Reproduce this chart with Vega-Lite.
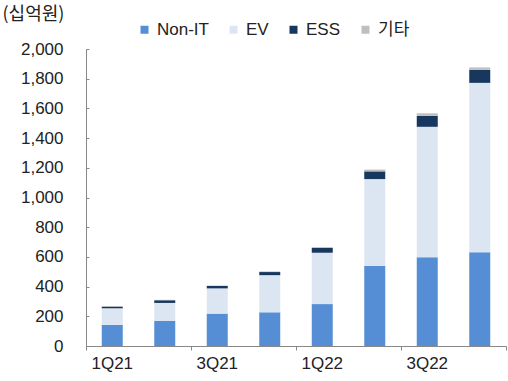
{
  "$schema": "https://vega.github.io/schema/vega-lite/v6.json",
  "width": 420,
  "height": 297,
  "autosize": "none",
  "padding": {"left": 86, "top": 49, "right": 2, "bottom": 35},
  "background": "white",
  "config": {
    "view": {"stroke": null},
    "font": "Liberation Sans, Noto Sans CJK KR, sans-serif"
  },
  "data": {
    "values": [
      {"quarter": "1Q21", "segment": "Non-IT", "rank": 1, "value": 142},
      {"quarter": "1Q21", "segment": "EV", "rank": 2, "value": 112},
      {"quarter": "1Q21", "segment": "ESS", "rank": 3, "value": 11},
      {"quarter": "1Q21", "segment": "기타", "rank": 4, "value": 2},
      {"quarter": "2Q21", "segment": "Non-IT", "rank": 1, "value": 170},
      {"quarter": "2Q21", "segment": "EV", "rank": 2, "value": 120},
      {"quarter": "2Q21", "segment": "ESS", "rank": 3, "value": 18},
      {"quarter": "2Q21", "segment": "기타", "rank": 4, "value": 3},
      {"quarter": "3Q21", "segment": "Non-IT", "rank": 1, "value": 218},
      {"quarter": "3Q21", "segment": "EV", "rank": 2, "value": 170},
      {"quarter": "3Q21", "segment": "ESS", "rank": 3, "value": 16},
      {"quarter": "3Q21", "segment": "기타", "rank": 4, "value": 3},
      {"quarter": "4Q21", "segment": "Non-IT", "rank": 1, "value": 227},
      {"quarter": "4Q21", "segment": "EV", "rank": 2, "value": 250},
      {"quarter": "4Q21", "segment": "ESS", "rank": 3, "value": 21},
      {"quarter": "4Q21", "segment": "기타", "rank": 4, "value": 4},
      {"quarter": "1Q22", "segment": "Non-IT", "rank": 1, "value": 282},
      {"quarter": "1Q22", "segment": "EV", "rank": 2, "value": 346},
      {"quarter": "1Q22", "segment": "ESS", "rank": 3, "value": 32},
      {"quarter": "1Q22", "segment": "기타", "rank": 4, "value": 6},
      {"quarter": "2Q22", "segment": "Non-IT", "rank": 1, "value": 538},
      {"quarter": "2Q22", "segment": "EV", "rank": 2, "value": 586},
      {"quarter": "2Q22", "segment": "ESS", "rank": 3, "value": 52},
      {"quarter": "2Q22", "segment": "기타", "rank": 4, "value": 12},
      {"quarter": "3Q22", "segment": "Non-IT", "rank": 1, "value": 598},
      {"quarter": "3Q22", "segment": "EV", "rank": 2, "value": 878},
      {"quarter": "3Q22", "segment": "ESS", "rank": 3, "value": 74},
      {"quarter": "3Q22", "segment": "기타", "rank": 4, "value": 17},
      {"quarter": "4Q22", "segment": "Non-IT", "rank": 1, "value": 632},
      {"quarter": "4Q22", "segment": "EV", "rank": 2, "value": 1140},
      {"quarter": "4Q22", "segment": "ESS", "rank": 3, "value": 88},
      {"quarter": "4Q22", "segment": "기타", "rank": 4, "value": 16}
    ]
  },
  "mark": {"type": "bar", "width": {"band": 0.4}},
  "encoding": {
    "x": {
      "field": "quarter",
      "type": "ordinal",
      "sort": null,
      "scale": {"paddingInner": 0, "paddingOuter": 0},
      "axis": {
        "title": null,
        "labelAngle": 0,
        "bandPosition": 1,
        "tickExtra": true,
        "tickSize": 4,
        "tickColor": "#888888",
        "tickOpacity": {
          "condition": {"test": "indexof(['1Q21','3Q21','1Q22','3Q22'], datum.value) >= 0", "value": 0},
          "value": 1
        },
        "domainColor": "#888888",
        "labelExpr": "indexof(['1Q21','3Q21','1Q22','3Q22'], datum.value) >= 0 ? datum.value : ''",
        "labelFontSize": 17,
        "labelColor": "#222222",
        "labelPadding": 5,
        "labelFont": "Liberation Sans"
      }
    },
    "y": {
      "field": "value",
      "type": "quantitative",
      "stack": "zero",
      "scale": {"domain": [0, 2000], "nice": false},
      "axis": {
        "title": "(십억원)",
        "titleAngle": 0,
        "titleAlign": "left",
        "titleBaseline": "middle",
        "titleX": -84,
        "titleY": -35,
        "titleFontSize": 18,
        "titleFontWeight": "normal",
        "titleColor": "#222222",
        "titleFont": "Noto Sans CJK KR",
        "values": [0, 200, 400, 600, 800, 1000, 1200, 1400, 1600, 1800, 2000],
        "format": ",.0f",
        "grid": false,
        "tickSize": -3,
        "tickColor": "#888888",
        "domainColor": "#888888",
        "labelPadding": 26,
        "labelFontSize": 17,
        "labelColor": "#222222",
        "labelFont": "Liberation Sans"
      }
    },
    "order": {"field": "rank", "type": "quantitative", "sort": "ascending"},
    "color": {
      "field": "segment",
      "type": "nominal",
      "sort": ["Non-IT", "EV", "ESS", "기타"],
      "scale": {
        "domain": ["Non-IT", "EV", "ESS", "기타"],
        "range": ["#558ED5", "#DCE6F2", "#17375E", "#BFBFBF"]
      },
      "legend": {
        "title": null,
        "orient": "none",
        "direction": "horizontal",
        "legendX": 50,
        "legendY": -28,
        "padding": 0,
        "symbolType": "square",
        "symbolSize": 64,
        "symbolStrokeWidth": 0,
        "labelFontSize": 17,
        "labelColor": "#222222",
        "labelOffset": 4,
        "columnPadding": 16,
        "labelFont": "Liberation Sans, Noto Sans CJK KR"
      }
    }
  }
}
